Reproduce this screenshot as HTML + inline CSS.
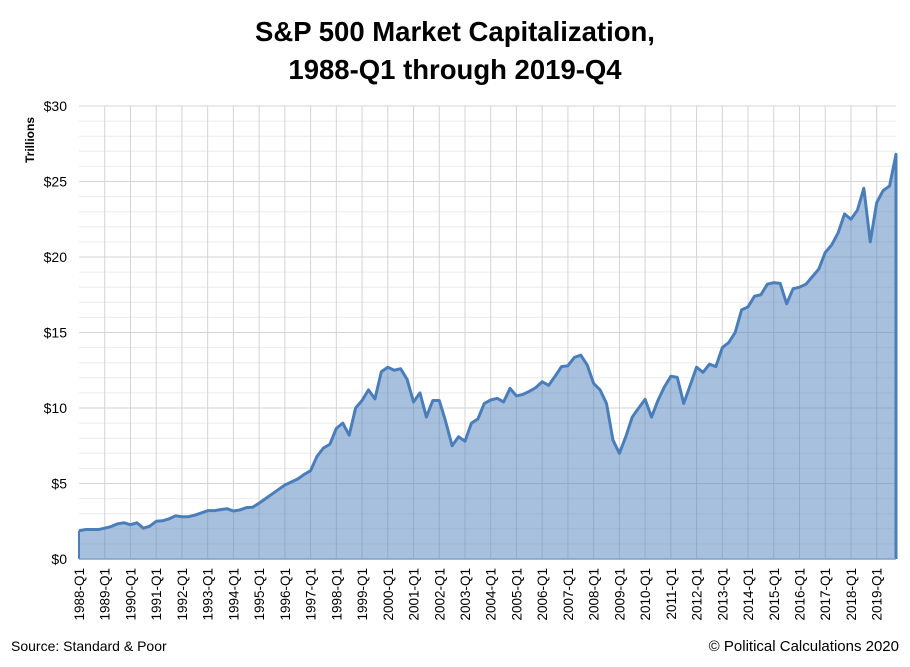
<!DOCTYPE html>
<html><head><meta charset="utf-8"><style>
body{margin:0;background:#fff;}
svg text{font-family:"Liberation Sans",sans-serif;}
</style></head><body>
<svg width="910" height="662" viewBox="0 0 910 662" id="chart">
<text x="455" y="41" text-anchor="middle" font-size="27.5" font-weight="bold">S&amp;P 500 Market Capitalization,</text>
<text x="455" y="79" text-anchor="middle" font-size="27.5" font-weight="bold">1988-Q1 through 2019-Q4</text>
<text transform="translate(34,140) rotate(-90)" text-anchor="middle" font-size="12" font-weight="bold">Trillions</text>
<g id="grid"></g><g id="series"></g><g id="axes"></g>
<text x="11" y="651" font-size="14">Source: Standard &amp; Poor</text>
<text x="899" y="651" text-anchor="end" font-size="15">© Political Calculations 2020</text>
</svg>
<script>
const years=[];for(let y=1988;y<=2019;y++)years.push(y+'-Q1');
const values=[1.87,1.95,1.95,1.95,2.04,2.15,2.33,2.4,2.27,2.4,2.04,2.17,2.5,2.53,2.66,2.86,2.8,2.8,2.9,3.05,3.2,3.2,3.27,3.33,3.18,3.25,3.4,3.43,3.7,4.0,4.3,4.6,4.9,5.1,5.3,5.6,5.85,6.8,7.35,7.6,8.65,9.0,8.2,10.0,10.5,11.2,10.6,12.4,12.7,12.5,12.6,11.9,10.4,11.0,9.4,10.5,10.5,9.1,7.5,8.1,7.8,9.0,9.27,10.3,10.53,10.64,10.4,11.3,10.8,10.9,11.1,11.35,11.74,11.5,12.1,12.74,12.8,13.35,13.5,12.85,11.63,11.2,10.3,7.88,7.0,8.1,9.4,10.0,10.57,9.4,10.5,11.4,12.1,12.03,10.3,11.5,12.7,12.36,12.9,12.74,14.0,14.33,15.0,16.5,16.7,17.4,17.5,18.2,18.3,18.25,16.9,17.9,18.0,18.2,18.7,19.2,20.3,20.8,21.6,22.85,22.5,23.1,24.55,21.0,23.6,24.4,24.7,26.8];
const yTicks=[0,5,10,15,20,25,30];
const yTickLabels=['$0','$5','$10','$15','$20','$25','$30'];
const NS='http://www.w3.org/2000/svg';
const L=79,R=896,T=106,B=559,YMAX=30;
const n=values.length;
const xs=i=>L+(R-L)*i/(n-1);
const ys=v=>B-(B-T)*v/YMAX;
function mk(tag,attrs,parent){const e=document.createElementNS(NS,tag);for(const k in attrs)e.setAttribute(k,attrs[k]);parent.appendChild(e);return e;}
const grid=document.getElementById('grid'),series=document.getElementById('series'),axes=document.getElementById('axes');
for(let v=0;v<=YMAX;v++){
  if(v%5===0)continue;
  const l=mk('line',{x1:L,x2:R,y1:ys(v),y2:ys(v),stroke:'#ececec','stroke-width':1},grid);
  
  
}
yTicks.forEach((v,k)=>{
  const l=mk('line',{x1:L,x2:R,y1:ys(v),y2:ys(v),stroke:'#d4d4d4','stroke-width':1},grid);
  
  
  const t=mk('text',{x:67,y:ys(v)+5,'text-anchor':'end','font-size':14},axes);
  t.textContent=yTickLabels[k];
  
  
});
for(let i=4;i<n;i+=4){
  const l=mk('line',{x1:xs(i),x2:xs(i),y1:T,y2:B,stroke:'#d4d4d4','stroke-width':1},grid);
  
  
}
let d='M'+xs(0)+','+ys(0);
let ld='';
values.forEach((v,i)=>{d+=' L'+xs(i)+','+ys(v);ld+=(i?' L':'M')+xs(i)+','+ys(v);});
d+=' L'+xs(n-1)+','+ys(0)+' Z';
const area=mk('path',{d:d,fill:'#4f81bd','fill-opacity':0.5,stroke:'none'},series);


const line=mk('path',{d:ld+' L'+xs(n-1)+','+ys(0),fill:'none',stroke:'#4a7ebb','stroke-width':3,'stroke-linejoin':'round'},series);


const lv=mk('line',{x1:L,x2:L,y1:ys(0),y2:ys(values[0]),stroke:'#4a7ebb','stroke-width':2},series);


const ax=mk('line',{x1:L,x2:R,y1:B,y2:B,stroke:'#7f9fc8','stroke-width':1.5},axes);


years.forEach((lab,k)=>{
  const x=xs(k*4)+5;
  const t=mk('text',{transform:'translate('+x+',568) rotate(-90)','text-anchor':'end','font-size':13.5},axes);
  t.textContent=lab;
  
  
});
</script>
</body></html>
